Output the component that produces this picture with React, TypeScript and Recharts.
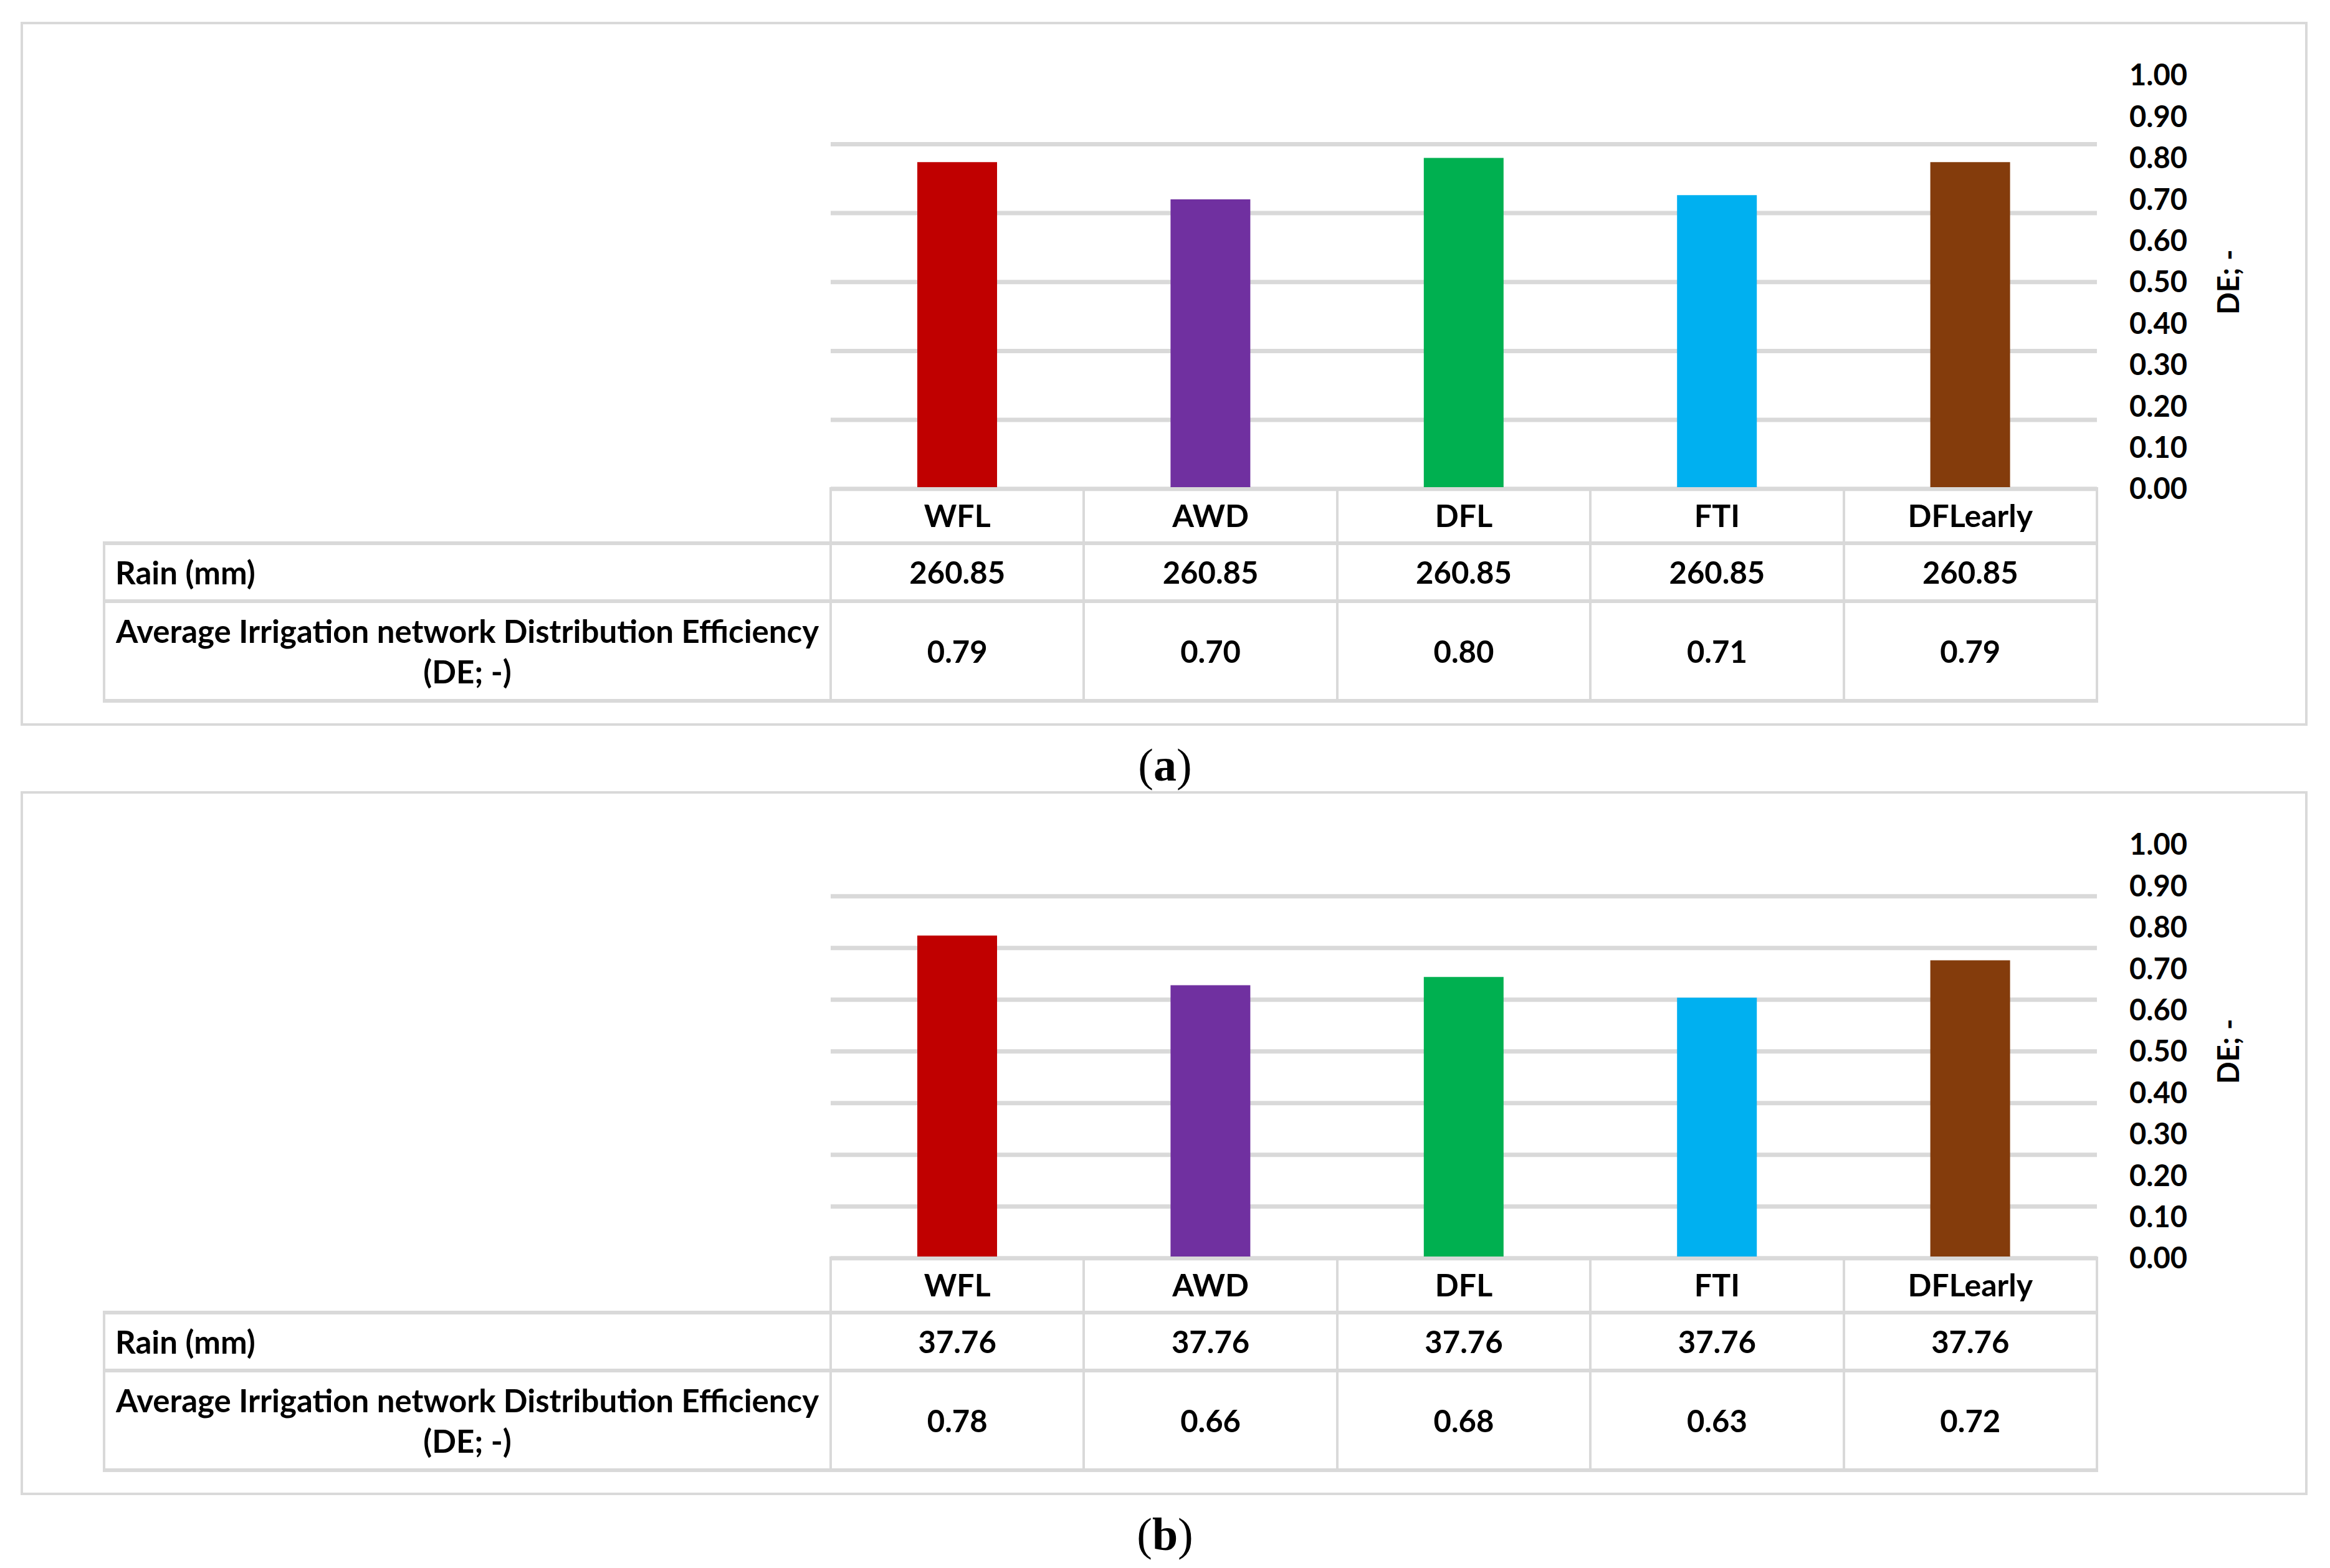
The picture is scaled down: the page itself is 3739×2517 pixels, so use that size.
import React from 'react'
import { BarChart, Bar, XAxis, YAxis, CartesianGrid, Cell } from 'recharts'

// chart values
const categories = ['WFL', 'AWD', 'DFL', 'FTI', 'DFLearly']
const rainA = [260.85, 260.85, 260.85, 260.85, 260.85]
const deA = [0.79, 0.7, 0.8, 0.71, 0.79]
const rainB = [37.76, 37.76, 37.76, 37.76, 37.76]
const deB = [0.78, 0.66, 0.68, 0.63, 0.72]
const yTicks = [0, 0.1, 0.2, 0.3, 0.4, 0.5, 0.6, 0.7, 0.8, 0.9, 1.0]
// gridlines come from the hidden primary axis, so they don't sit on the DE ticks
const gridA = [0, 0.1667, 0.3333, 0.5, 0.6667, 0.8333]
const gridB = [0, 0.125, 0.25, 0.375, 0.5, 0.625, 0.75, 0.875]
const rowLabels = ['Rain (mm)', 'Average Irrigation network Distribution Efficiency', '(DE; -)']

const BAR_COLORS = ['#C00000', '#7030A0', '#00B050', '#00B0F0', '#843C0C']
const GRID = '#d9d9d9'
const FONT = 'Lato, "Open Sans", sans-serif'

// layout, px
const W = 3739
const PLOT_L = 1333
const PLOT_R = 3365
const PLOT_T = 120.7
const PLOT_B = 784.7
const HEAD_B = 872
const RAIN_B = 965
const TABLE_B = 1125
const LABEL_L = 167
const AXIS_W = 210
const CHART_H = 900
const COL_W = (PLOT_R - PLOT_L) / categories.length
const TXT = 49
const LBL = 51

function HLine({ y, x1, x2 }: { y: number; x1: number; x2: number }) {
  return <div style={{ position: 'absolute', left: x1, top: y - 3, width: x2 - x1, height: 6, background: GRID }} />
}

function VLine({ x, y1, y2 }: { x: number; y1: number; y2: number }) {
  return <div style={{ position: 'absolute', left: x - 2, top: y1, width: 4, height: y2 - y1, background: GRID }} />
}

function Cellbox({ x, y, w, h, children, align = 'center', pad = 0, size = TXT }: any) {
  return (
    <div
      style={{
        position: 'absolute', left: x, top: y, width: w, height: h,
        display: 'flex', alignItems: 'center',
        justifyContent: align === 'left' ? 'flex-start' : 'center',
        textAlign: align, paddingLeft: pad, boxSizing: 'border-box',
        fontFamily: FONT, fontWeight: 700, fontSize: size, lineHeight: '65px', color: '#000',
      }}
    >
      {children}
    </div>
  )
}

function DeLabel({ viewBox }: any) {
  const cx = viewBox.x + viewBox.width
  const cy = viewBox.y + viewBox.height / 2
  return (
    <text x={cx} y={cy} transform={`rotate(-90 ${cx} ${cy})`} textAnchor="middle" dominantBaseline="central"
      fontSize={47} fontWeight={700} fill="#000">
      DE; -
    </text>
  )
}

function Panel({ top, rain, de, grid, caption }: { top: number; rain: number[]; de: number[]; grid: number[]; caption: string }) {
  const data = categories.map((name, i) => ({ name, de: de[i] }))
  const colX = categories.map((_, i) => PLOT_L + i * COL_W)
  return (
    <div style={{ position: 'absolute', left: 0, top, width: W, height: 1235 }}>
      <div style={{ position: 'absolute', left: 33, top: 35, width: 3670, height: 1130, border: `4px solid ${GRID}`, boxSizing: 'border-box' }} />

      <div style={{ position: 'absolute', left: 0, top: 0, fontFamily: FONT }}>
        <BarChart
          width={W}
          height={CHART_H}
          data={data}
          barSize={128}
          margin={{ top: PLOT_T, left: PLOT_L, right: W - PLOT_R - AXIS_W, bottom: CHART_H - HEAD_B }}
        >
          <CartesianGrid vertical={false} horizontalValues={grid} stroke={GRID} strokeWidth={7} />
          <XAxis
            dataKey="name"
            height={HEAD_B - PLOT_B}
            axisLine={false}
            tickLine={false}
            tickSize={0}
            tickMargin={26}
            interval={0}
            tick={{ fill: '#000', fontSize: LBL - 1, fontWeight: 700 }}
          />
          <YAxis
            orientation="right"
            width={AXIS_W}
            domain={[0, 1]}
            ticks={yTicks}
            interval={0}
            axisLine={false}
            tickLine={false}
            tickSize={0}
            tickMargin={52}
            tickFormatter={(v: number) => v.toFixed(2)}
            tick={{ fill: '#000', fontSize: 47, fontWeight: 700 }}
            label={<DeLabel />}
          />
          <Bar dataKey="de" isAnimationActive={false}>
            {data.map((_, i) => (
              <Cell key={i} fill={BAR_COLORS[i % BAR_COLORS.length]} />
            ))}
          </Bar>
        </BarChart>
      </div>

      {/* data table under the plot */}
      <HLine y={PLOT_B} x1={PLOT_L} x2={PLOT_R} />
      <HLine y={HEAD_B} x1={LABEL_L} x2={PLOT_R} />
      <HLine y={RAIN_B} x1={LABEL_L} x2={PLOT_R} />
      <HLine y={TABLE_B} x1={LABEL_L} x2={PLOT_R} />
      <VLine x={LABEL_L} y1={HEAD_B - 3} y2={TABLE_B + 3} />
      {[...colX, PLOT_R].map((x, i) => (
        <VLine key={i} x={x} y1={PLOT_B - 3} y2={TABLE_B + 3} />
      ))}

      <Cellbox x={LABEL_L} y={HEAD_B} w={PLOT_L - LABEL_L} h={RAIN_B - HEAD_B} align="left" pad={18} size={LBL}>
        {rowLabels[0]}
      </Cellbox>
      <Cellbox x={LABEL_L} y={RAIN_B} w={PLOT_L - LABEL_L} h={TABLE_B - RAIN_B} size={LBL}>
        <div style={{ whiteSpace: 'nowrap' }}>
          {rowLabels[1]}
          <br />
          {rowLabels[2]}
        </div>
      </Cellbox>
      {colX.map((x, i) => (
        <Cellbox key={'r' + i} x={x} y={HEAD_B} w={COL_W} h={RAIN_B - HEAD_B}>
          {rain[i].toFixed(2)}
        </Cellbox>
      ))}
      {colX.map((x, i) => (
        <Cellbox key={'d' + i} x={x} y={RAIN_B} w={COL_W} h={TABLE_B - RAIN_B}>
          {de[i].toFixed(2)}
        </Cellbox>
      ))}

      <div
        style={{
          position: 'absolute', left: 0, top: 1178, width: W, height: 100, lineHeight: '100px',
          textAlign: 'center', fontFamily: '"Liberation Serif", serif', fontSize: 74, color: '#000',
        }}
      >
        (<b>{caption}</b>)
      </div>
    </div>
  )
}

export default function App() {
  return (
    <div style={{ position: 'absolute', left: 0, top: 0, width: W, height: 2517, background: '#fff', overflow: 'hidden' }}>
      <Panel top={0} rain={rainA} de={deA} grid={gridA} caption="a" />
      <Panel top={1235} rain={rainB} de={deB} grid={gridB} caption="b" />
    </div>
  )
}
